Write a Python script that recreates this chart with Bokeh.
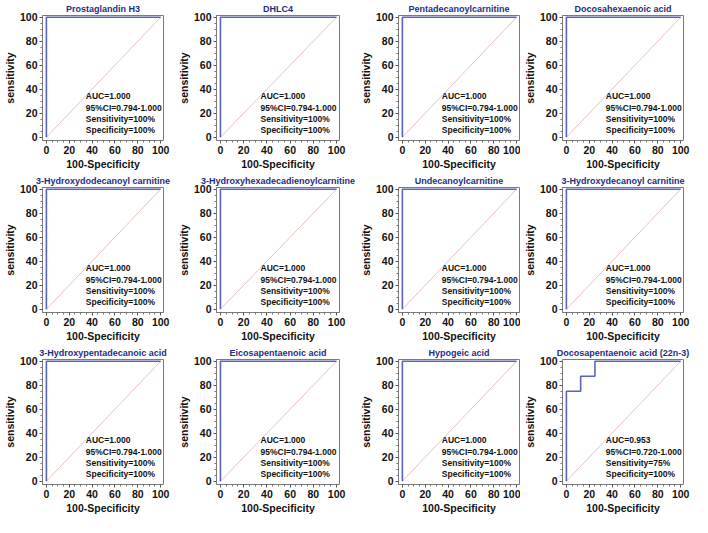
from bokeh.plotting import figure
from bokeh.layouts import row, column
from bokeh.models import Range1d, FixedTicker
from bokeh.embed import file_html
from bokeh.resources import INLINE
from bokeh.core.properties import value

titles = ["Prostaglandin H3", "DHLC4", "Pentadecanoylcarnitine", "Docosahexaenoic acid",
          "3-Hydroxydodecanoyl carnitine", "3-Hydroxyhexadecadienoylcarnitine",
          "Undecanoylcarnitine", "3-Hydroxydecanoyl carnitine",
          "3-Hydroxypentadecanoic acid", "Eicosapentaenoic acid", "Hypogeic acid",
          "Docosapentaenoic acid (22n-3)"]
auc = [1.000] * 11 + [0.953]
ci_low = [0.794] * 11 + [0.720]
ci_high = [1.000] * 12
sensitivity = [100] * 11 + [75]
specificity = [100] * 12
roc_x = [[0, 0, 100]] * 11 + [[0, 0, 12.5, 12.5, 25, 25, 100]]
roc_y = [[0, 100, 100]] * 11 + [[0, 75, 75, 87.5, 87.5, 100, 100]]
chance_x = [0, 100]
chance_y = [0, 100]
major_ticks = [0, 20, 40, 60, 80, 100]
minor_ticks = [5, 10, 15, 25, 30, 35, 45, 50, 55, 65, 70, 75, 85, 90, 95]

FONT = "Liberation Sans"
CURVE = "#5a62c4"
FRAME = "#7a7a7a"
TITLE = "#1f2d7f"

col_width = [174, 182, 164, 172]
col_rborder = [11, 17, 1, 9]


def make(i):
    c = i % 4
    p = figure(width=col_width[c], frame_height=125,
               x_range=Range1d(-3.4, 102.5), y_range=Range1d(-2.7, 101.4),
               output_backend="svg", toolbar_location=None,
               min_border_left=0, min_border_right=col_rborder[c],
               min_border_top=0, min_border_bottom=0,
               title=titles[i])
    p.title.align = "center"
    p.title.text_font = FONT
    p.title.text_font_size = "9px"
    p.title.text_font_style = "bold"
    p.title.text_color = TITLE
    p.title.standoff = 3
    p.xgrid.visible = False
    p.ygrid.visible = False
    p.outline_line_color = FRAME
    p.outline_line_alpha = 1
    p.background_fill_color = "white"
    p.border_fill_color = "white"
    for ax in (p.xaxis[0], p.yaxis[0]):
        ax.ticker = FixedTicker(ticks=major_ticks, minor_ticks=minor_ticks)
        ax.axis_line_color = FRAME
        ax.major_tick_line_color = "#555555"
        ax.minor_tick_line_color = "#777777"
        ax.major_tick_in = 0
        ax.major_tick_out = 3
        ax.minor_tick_in = 0
        ax.minor_tick_out = 2
        ax.major_label_text_font = FONT
        ax.major_label_text_font_style = "bold"
        ax.major_label_text_font_size = "10.5px"
        ax.major_label_text_color = "#111111"
        ax.major_label_standoff = 2
        ax.axis_label_text_font = FONT
        ax.axis_label_text_font_style = "bold"
        ax.axis_label_text_font_size = "10.5px"
        ax.axis_label_text_color = "#111111"
        ax.axis_label_standoff = 1
    p.xaxis.axis_label = "100-Specificity"
    p.yaxis.axis_label = "sensitivity"

    p.line(chance_x, chance_y, line_color="#e3b0b0", line_width=0.8)
    p.line(roc_x[i], roc_y[i], line_color=CURVE, line_width=1.6)

    lines = [f"AUC={auc[i]:.3f}",
             f"95%CI={ci_low[i]:.3f}-{ci_high[i]:.3f}",
             f"Sensitivity={sensitivity[i]}%",
             f"Specificity={specificity[i]}%"]
    p.text(x=[34.5] * 4, y=[34, 24.7, 15.3, 5.9], text=lines,
           text_font=value(FONT), text_font_style="bold", text_font_size="8.5px",
           text_color="#111111", text_baseline="middle", text_align="left")
    return p


figs = [make(i) for i in range(12)]
layout = row([column([figs[c], figs[c + 4], figs[c + 8]], spacing=0) for c in range(4)],
             spacing=0)

open("out.html", "w").write(file_html(layout, INLINE))
